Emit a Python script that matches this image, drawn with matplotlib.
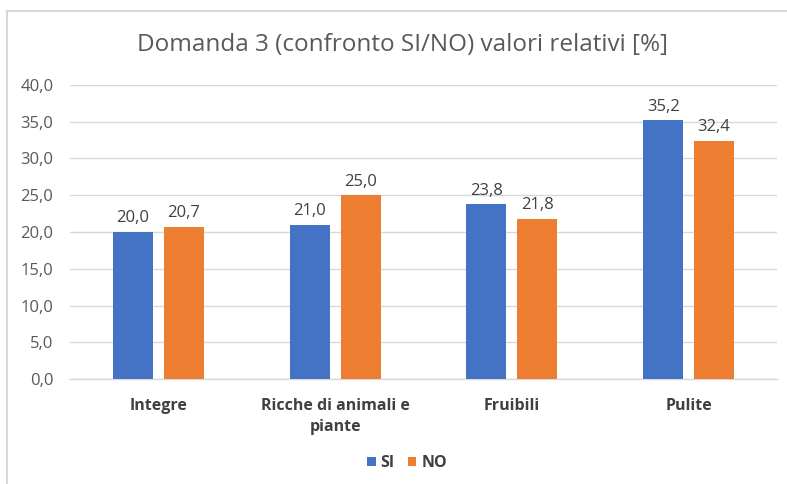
import matplotlib
matplotlib.use("Agg")
import matplotlib.pyplot as plt
from matplotlib.lines import Line2D
from matplotlib.transforms import offset_copy
import numpy as np

categories = ["Integre", "Ricche di animali e\npiante", "Fruibili", "Pulite"]
si_values = [20.0, 21.0, 23.8, 35.2]
no_values = [20.7, 25.0, 21.8, 32.4]
yticks = [0, 5, 10, 15, 20, 25, 30, 35, 40]
title = "Domanda 3 (confronto SI/NO) valori relativi [%]"

plt.rcParams['font.family'] = ['Open Sans', 'DejaVu Sans']

W, H = 787, 484
fig = plt.figure(figsize=(W/100, H/100), dpi=100)
ax = fig.add_axes([70/W, 105/H, (777-70)/W, (379-85)/H])

x = np.arange(len(categories))
bw = 0.226
gap = 0.062
off = (bw + gap) / 2
b1 = ax.bar(x - off, si_values, bw, color="#4472C4", label="SI", zorder=3)
b2 = ax.bar(x + off, no_values, bw, color="#ED7D31", label="NO", zorder=3)

def fmt(v):
    return f"{v:.1f}".replace(".", ",")

for bars, vals in ((b1, si_values), (b2, no_values)):
    for r, v in zip(bars, vals):
        ax.annotate(fmt(v), (r.get_x() + r.get_width()/2, v), xytext=(0, 4),
                    textcoords="offset points", ha="center", va="bottom",
                    fontsize=12, color="#404040")

ax.set_xlim(-0.5, len(categories) - 0.5)
ax.set_ylim(0, 40)
ax.set_yticks(yticks)
ax.set_yticklabels([fmt(v) for v in yticks], fontsize=12, color="#595959")
ax.yaxis.grid(True, color="#d9d9d9", linewidth=1)
ax.set_axisbelow(True)
for s in ["top", "right", "left"]:
    ax.spines[s].set_visible(False)
ax.spines["bottom"].set_color("#d9d9d9")
ax.spines["bottom"].set_linewidth(1)
ax.tick_params(axis="y", length=0, pad=12)
ax.set_xticks(x)
ax.set_xticklabels([])
ax.tick_params(axis="x", length=0)

line_step = 14.5  # points between lines
for xi, c in zip(x, categories):
    for k, line in enumerate(c.split("\n")):
        tr = offset_copy(ax.get_xaxis_transform(), fig=fig, x=0,
                         y=-14 - k * line_step, units="points")
        ax.text(xi, 0, line, transform=tr, ha="center", va="top",
                fontsize=11.5, fontweight="bold", color="#404040")

fig.text(402.5/W, 1 - 45/H, title, ha="center", va="center", fontsize=17.5, color="#595959")

leg = fig.legend(handles=[b1, b2], labels=["SI", "NO"], loc="center",
                 bbox_to_anchor=(407/W, 1 - 463/H), ncol=2, frameon=False,
                 fontsize=11.5, handlelength=0.55, handleheight=0.55,
                 handletextpad=0.3, columnspacing=0.8)
for t in leg.get_texts():
    t.set_color("#404040")
    t.set_fontweight("bold")

fig.add_artist(Line2D([7/W, 1], [1 - 11/H, 1 - 11/H], color="#d9d9d9", lw=1.5, transform=fig.transFigure))
fig.add_artist(Line2D([7/W, 7/W], [0, 1 - 11/H], color="#d9d9d9", lw=1.5, transform=fig.transFigure))

fig.savefig("out.png", dpi=100)
